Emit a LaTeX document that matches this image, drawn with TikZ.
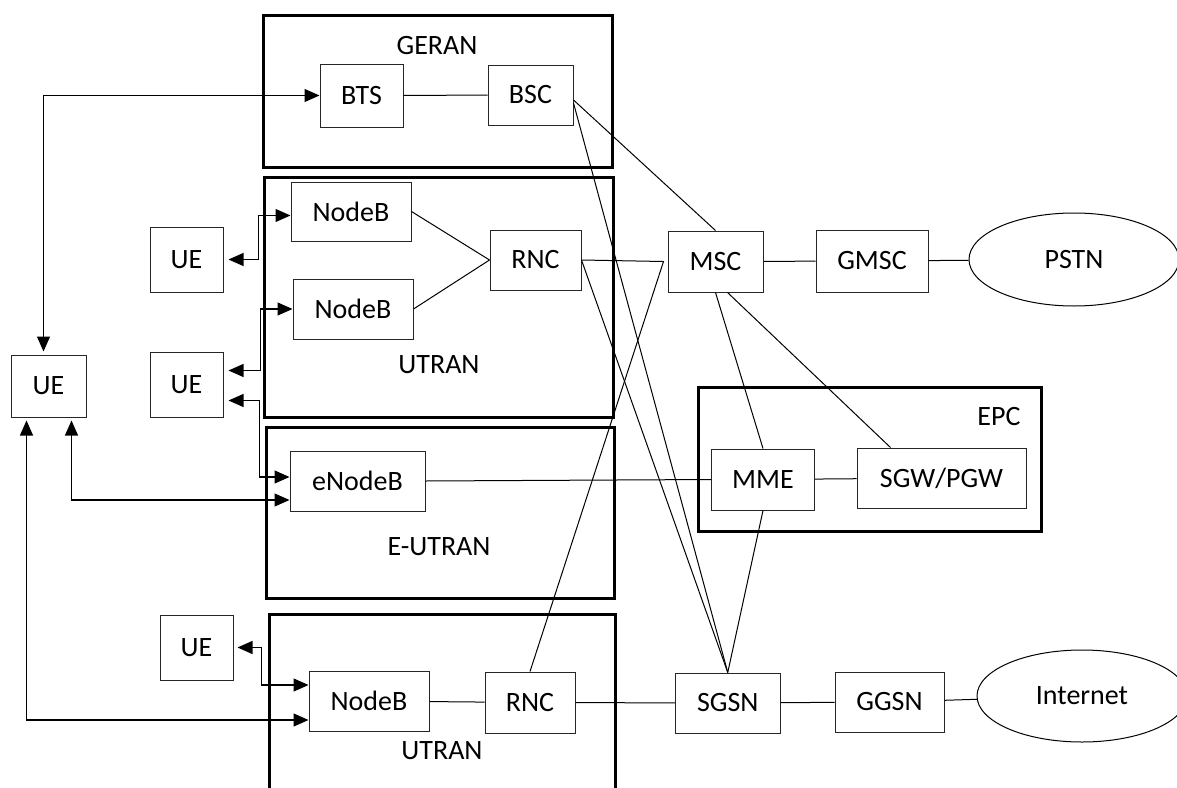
\documentclass[tikz,border=0pt]{standalone}
\usepackage{fontspec}
\setmainfont{Carlito}
\usetikzlibrary{arrows.meta,calc,shapes.geometric}
\tikzset{
  nbox/.style={draw=black!85, line width=1pt, inner sep=0pt, rectangle},
  cloud/.style={draw, line width=1pt, inner sep=0pt, ellipse},
  group/.style={draw, line width=3pt},
  link/.style={line width=1pt},
  biarrow/.style={line width=1.2pt, {Triangle[length=15pt,width=13pt]}-{Triangle[length=15pt,width=13pt]}},
  lbl/.style={inner sep=0pt}
}
\begin{document}
\begin{tikzpicture}[x=1pt, y=-1pt, font=\fontsize{28}{34}\selectfont]
\useasboundingbox (0,0) rectangle (1177,787);
% group boxes
\draw[group] (263,15) rectangle (612,167);
\draw[group] (264,177) rectangle (613,417);
\draw[group] (266,427) rectangle (614,598);
\draw[group] (269,800) -- (269,614) -- (615,614) -- (615,800);
\draw[group] (698,387) rectangle (1041,531);
% group labels
\node[lbl] (lGERAN) at (437,46) {GERAN};
\node[lbl] (lUTRAN1) at (439,365) {UTRAN};
\node[lbl] (lEUTRAN) at (439,547) {E-UTRAN};
\node[lbl] (lUTRAN2) at (442,751) {UTRAN};
\node[lbl] (lEPC) at (999,417) {EPC};
% nodes
\node[nbox, minimum width=83pt, minimum height=63pt] (BTS) at (361.5,95.5) {BTS};
\node[nbox, minimum width=85pt, minimum height=60pt] (BSC) at (530.5,95) {BSC};
\node[nbox, minimum width=120pt, minimum height=59pt] (NodeB1) at (351,211.5) {NodeB};
\node[nbox, minimum width=120pt, minimum height=60pt] (NodeB2) at (353,309) {NodeB};
\node[nbox, minimum width=91pt, minimum height=60pt] (RNC1) at (535.5,260) {RNC};
\node[nbox, minimum width=73pt, minimum height=65pt] (UE1) at (186.5,259.5) {UE};
\node[nbox, minimum width=73pt, minimum height=65pt] (UE2) at (186.5,384.5) {UE};
\node[nbox, minimum width=75pt, minimum height=62pt] (UE0) at (48.5,386) {UE};
\node[nbox, minimum width=135pt, minimum height=60pt] (eNodeB) at (357.5,481) {eNodeB};
\node[nbox, minimum width=73pt, minimum height=65pt] (UE3) at (196.5,647.5) {UE};
\node[nbox, minimum width=120pt, minimum height=60pt] (NodeB3) at (369,701) {NodeB};
\node[nbox, minimum width=90pt, minimum height=61pt] (RNC2) at (530,702.5) {RNC};
\node[nbox, minimum width=95pt, minimum height=61pt] (MSC) at (715.5,261.5) {MSC};
\node[nbox, minimum width=112pt, minimum height=62pt] (GMSC) at (872,261) {GMSC};
\node[cloud, minimum width=210pt, minimum height=93pt] (PSTN) at (1074,259.5) {PSTN};
\node[nbox, minimum width=103pt, minimum height=61pt] (MME) at (763,479.5) {MME};
\node[nbox, minimum width=169pt, minimum height=60pt] (SGW) at (941.5,478) {SGW/PGW};
\node[nbox, minimum width=105pt, minimum height=60pt] (SGSN) at (727.75,703) {SGSN};
\node[nbox, minimum width=109pt, minimum height=60pt] (GGSN) at (889.5,702) {GGSN};
\node[cloud, minimum width=210pt, minimum height=92pt] (Internet) at (1082,696) {Internet};
% plain links
\draw[link] (BTS) -- (BSC);
\draw[link] ([yshift=-5pt]BSC.east) -- (MSC.north);
\draw[link] ([yshift=-8pt]BSC.east) -- (SGSN.north);
\draw[link] (NodeB1.east) -- (RNC1.west);
\draw[link] (NodeB2.east) -- (RNC1.west);
\coordinate (J) at ([xshift=-4pt]MSC.west);
\draw[link] (RNC1.east) -- (J) -- (RNC2.north);
\draw[link] (RNC1.east) -- (SGSN.north);
\draw[link] (MSC) -- (GMSC);
\draw[link] (GMSC) -- (PSTN);
\draw[link] (MSC.south) -- (MME.north);
\draw[link] ([xshift=12pt]MSC.south) -- ($(SGW.north west)!0.2!(SGW.north east)$);
\draw[link] (eNodeB.east) -- (MME.west);
\draw[link] (MME) -- (SGW);
\draw[link] (MME.south) -- (SGSN.north);
\draw[link] (NodeB3) -- (RNC2);
\draw[link] (RNC2) -- (SGSN);
\draw[link] (SGSN) -- (GGSN);
\draw[link] (GGSN) -- (Internet);
% radio arrows
\draw[biarrow, shorten <=3pt] ([xshift=-5pt]UE0.north) |- (BTS.west);
\draw[biarrow, shorten <=5pt] (UE1.east) -- ++(35pt,0) |- ([yshift=-4pt]NodeB1.west);
\draw[biarrow, shorten <=5pt] ([yshift=14pt]UE2.east) -- ++(37pt,0) |- (NodeB2.west);
\draw[biarrow, shorten <=5pt] ([yshift=-16pt]UE2.east) -- ++(36pt,0) |- ([yshift=4pt]eNodeB.west);
\draw[biarrow, shorten <=3pt] ([xshift=23pt]UE0.south) |- ([yshift=-19pt]eNodeB.west);
\draw[biarrow, shorten <=3pt] ([xshift=-22pt]UE0.south) |- ([yshift=-19pt]NodeB3.west);
\draw[biarrow, shorten <=4pt] (UE3.east) -- ++(28pt,0) |- ([yshift=16pt]NodeB3.west);
\end{tikzpicture}
\end{document}
